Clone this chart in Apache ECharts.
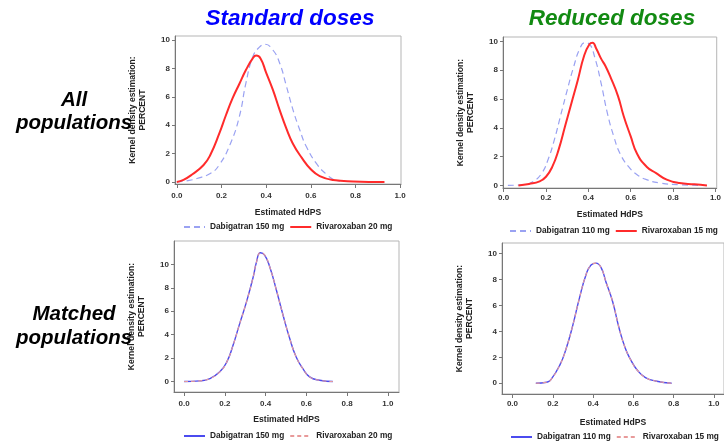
<!DOCTYPE html>
<html>
<head>
<meta charset="utf-8">
<script src="https://cdn.jsdelivr.net/npm/echarts@6/dist/echarts.min.js"></script>
<style>
html, body { margin: 0; padding: 0; background: #fff; }
#chart { width: 724px; height: 443px; }
</style>
</head>
<body>
<div id="chart"></div>
<script>
// tick labels
var xTicks = [0, 0.2, 0.4, 0.6, 0.8, 1.0];
var yTicks10 = [0, 2, 4, 6, 8, 10];

// All populations / standard doses
var allStdDabX = [0, 0.05, 0.09, 0.15, 0.19, 0.24, 0.28, 0.31, 0.34, 0.37, 0.395, 0.43, 0.46, 0.49, 0.52, 0.55, 0.58, 0.63, 0.67, 0.70, 0.73];
var allStdDabY = [0, 0.1, 0.25, 0.6, 1.2, 2.7, 4.6, 7.0, 8.8, 9.5, 9.7, 9.3, 8.4, 6.8, 5.1, 3.7, 2.5, 1.2, 0.55, 0.2, 0.05];
var allStdRivX = [0, 0.03, 0.07, 0.12, 0.15, 0.19, 0.22, 0.25, 0.28, 0.31, 0.34, 0.355, 0.375, 0.40, 0.43, 0.46, 0.49, 0.52, 0.56, 0.60, 0.64, 0.70, 0.79, 0.93];
var allStdRivY = [0, 0.15, 0.55, 1.2, 1.9, 3.4, 4.7, 5.9, 6.9, 7.9, 8.7, 8.9, 8.7, 7.7, 6.5, 5.1, 3.8, 2.7, 1.7, 0.9, 0.42, 0.14, 0.04, 0];

// All populations / reduced doses
var allRedDabX = [0.02, 0.09, 0.14, 0.18, 0.21, 0.24, 0.27, 0.30, 0.33, 0.36, 0.383, 0.405, 0.43, 0.46, 0.49, 0.52, 0.55, 0.59, 0.63, 0.675, 0.74, 0.83, 0.95];
var allRedDabY = [0, 0.05, 0.28, 0.85, 1.8, 3.2, 4.9, 6.6, 8.2, 9.5, 9.9, 9.8, 8.9, 7.1, 5.0, 3.4, 2.2, 1.3, 0.74, 0.4, 0.16, 0.05, 0];
var allRedRivX = [0.07, 0.12, 0.17, 0.20, 0.23, 0.26, 0.29, 0.32, 0.35, 0.38, 0.405, 0.42, 0.437, 0.46, 0.48, 0.505, 0.54, 0.567, 0.60, 0.63, 0.675, 0.72, 0.77, 0.83, 0.90, 0.96];
var allRedRivY = [0, 0.1, 0.28, 0.6, 1.3, 2.5, 4.1, 5.7, 7.3, 9.0, 9.8, 9.9, 9.5, 8.8, 8.3, 7.5, 6.2, 4.8, 3.4, 2.2, 1.3, 0.85, 0.4, 0.16, 0.08, 0];

// Matched populations (both curves lie on top of each other)
var matStdX = [0, 0.077, 0.126, 0.175, 0.21, 0.24, 0.27, 0.306, 0.34, 0.355, 0.374, 0.395, 0.42, 0.453, 0.485, 0.518, 0.55, 0.583, 0.616, 0.665, 0.73];
var matStdY = [0, 0.06, 0.26, 0.83, 1.7, 3.1, 4.8, 6.8, 9.0, 10.2, 11.0, 10.8, 9.8, 7.8, 5.7, 3.7, 2.1, 1.1, 0.4, 0.11, 0];
var matRedX = [0.116, 0.17, 0.19, 0.235, 0.267, 0.30, 0.333, 0.366, 0.39, 0.415, 0.44, 0.464, 0.497, 0.53, 0.56, 0.587, 0.62, 0.66, 0.71, 0.79];
var matRedY = [0, 0.08, 0.26, 1.4, 2.7, 4.5, 6.6, 8.4, 9.1, 9.25, 8.9, 7.8, 6.3, 4.2, 2.7, 1.8, 1.0, 0.44, 0.18, 0];

var FONT = '"Liberation Sans", Arial, sans-serif';

function pairs(xs, ys) {
	return xs.map(function (x, i) { return [x, ys[i]]; });
}

function makeX(idx, min, max, margin, nameGap) {
	return {
		type: 'value', gridIndex: idx, min: min, max: max,
		name: 'Estimated HdPS', nameLocation: 'middle', nameGap: nameGap,
		nameTextStyle: { fontFamily: FONT, fontSize: 8.6, fontWeight: 'bold', color: '#222' },
		axisLine: { onZero: false, lineStyle: { color: '#777', width: 1 } },
		axisTick: { length: 4, customValues: xTicks, lineStyle: { color: '#777' } },
		axisLabel: {
			customValues: xTicks, margin: margin,
			fontFamily: FONT, fontSize: 8, fontWeight: 'bold', color: '#333',
			formatter: function (v) { return v.toFixed(1); }
		},
		splitLine: { show: false }
	};
}

function makeY(idx, min, max) {
	return {
		type: 'value', gridIndex: idx, min: min, max: max,
		name: 'Kernel density estimation:\nPERCENT', nameLocation: 'middle', nameRotate: 90, nameGap: 27,
		nameTextStyle: { fontFamily: FONT, fontSize: 8.6, fontWeight: 'bold', color: '#222', lineHeight: 10 },
		axisLine: { onZero: false, lineStyle: { color: '#777', width: 1 } },
		axisTick: { length: 3, customValues: yTicks10, lineStyle: { color: '#777' } },
		axisLabel: {
			customValues: yTicks10, margin: 5,
			fontFamily: FONT, fontSize: 8, fontWeight: 'bold', color: '#333'
		},
		splitLine: { show: false }
	};
}

function curve(name, idx, data, color, width, dash, z) {
	return {
		name: name, type: 'line', xAxisIndex: idx, yAxisIndex: idx,
		data: data, showSymbol: false, symbol: 'none',
		smooth: 0.5, z: z || 2,
		lineStyle: { color: color, width: width, type: dash || 'solid' },
		itemStyle: { color: color },
		emphasis: { disabled: true }
	};
}

function legendAt(left, top, names) {
	return {
		left: left, top: top, width: 300, padding: 0, itemGap: 5, itemWidth: 21, itemHeight: 8,
		data: names,
		itemStyle: { opacity: 0 },
		formatter: function (n) { return n.split(':')[1]; },
		textStyle: { fontFamily: FONT, fontSize: 8.3, fontWeight: 'bold', color: '#222' }
	};
}

var DAB_DASH = '#9aa2f2';
var RIV_RED = '#ff2b2b';
var DAB_SOLID = '#4b4bef';
var RIV_PINK = '#e89a9a';

var option = {
	animation: false,
	backgroundColor: '#fff',
	title: [
		{ text: 'Standard doses', left: 290, top: 7, padding: 0, textAlign: 'center',
			textStyle: { fontFamily: FONT, fontSize: 22.5, fontWeight: 'bold', fontStyle: 'italic', color: '#0000ff' } },
		{ text: 'Reduced doses', left: 612, top: 7, padding: 0, textAlign: 'center',
			textStyle: { fontFamily: FONT, fontSize: 22.5, fontWeight: 'bold', fontStyle: 'italic', color: '#128a12' } },
		{ text: 'All\npopulations', left: 74, top: 89, padding: 0, textAlign: 'center',
			textStyle: { fontFamily: FONT, fontSize: 20.5, fontWeight: 'bold', fontStyle: 'italic', color: '#000', lineHeight: 23 } },
		{ text: 'Matched\npopulations', left: 74, top: 302, padding: 0, textAlign: 'center',
			textStyle: { fontFamily: FONT, fontSize: 20.5, fontWeight: 'bold', fontStyle: 'italic', color: '#000', lineHeight: 24 } }
	],
	grid: [
		{ left: 175, top: 36, width: 226, height: 148, show: true, borderColor: '#b5b5b5', borderWidth: 1 },
		{ left: 503, top: 37, width: 219, height: 151, show: true, borderColor: '#b5b5b5', borderWidth: 1 },
		{ left: 174, top: 241, width: 225, height: 151, show: true, borderColor: '#b5b5b5', borderWidth: 1 },
		{ left: 502, top: 243, width: 224, height: 151, show: true, borderColor: '#b5b5b5', borderWidth: 1 }
	],
	xAxis: [
		makeX(0, -0.008, 1.004, 8, 24),
		makeX(1, -0.003, 1.006, 6, 22),
		makeX(2, -0.05, 1.055, 8, 23),
		makeX(3, -0.052, 1.05, 6, 24)
	],
	yAxis: [
		makeY(0, -0.14, 10.28),
		makeY(1, -0.18, 10.3),
		makeY(2, -0.89, 12.0),
		makeY(3, -0.825, 10.8)
	],
	legend: [
		legendAt(183, 223, ['a:Dabigatran 150 mg', 'a:Rivaroxaban 20 mg']),
		legendAt(509, 227, ['b:Dabigatran 110 mg', 'b:Rivaroxaban 15 mg']),
		legendAt(183, 432, ['c:Dabigatran 150 mg', 'c:Rivaroxaban 20 mg']),
		legendAt(510, 433, ['d:Dabigatran 110 mg', 'd:Rivaroxaban 15 mg'])
	],
	series: [
		curve('a:Dabigatran 150 mg', 0, pairs(allStdDabX, allStdDabY), DAB_DASH, 1.2, [6, 4]),
		curve('a:Rivaroxaban 20 mg', 0, pairs(allStdRivX, allStdRivY), RIV_RED, 2),
		curve('b:Dabigatran 110 mg', 1, pairs(allRedDabX, allRedDabY), DAB_DASH, 1.2, [6, 4]),
		curve('b:Rivaroxaban 15 mg', 1, pairs(allRedRivX, allRedRivY), RIV_RED, 2),
		curve('c:Dabigatran 150 mg', 2, pairs(matStdX, matStdY), DAB_SOLID, 1.4),
		curve('c:Rivaroxaban 20 mg', 2, pairs(matStdX, matStdY), RIV_PINK, 1.1, [4, 3], 3),
		curve('d:Dabigatran 110 mg', 3, pairs(matRedX, matRedY), DAB_SOLID, 1.4),
		curve('d:Rivaroxaban 15 mg', 3, pairs(matRedX, matRedY), RIV_PINK, 1.1, [4, 3], 3)
	]
};

var chart = echarts.init(document.getElementById('chart'), null, { renderer: 'canvas' });
chart.setOption(option);
</script>
</body>
</html>
